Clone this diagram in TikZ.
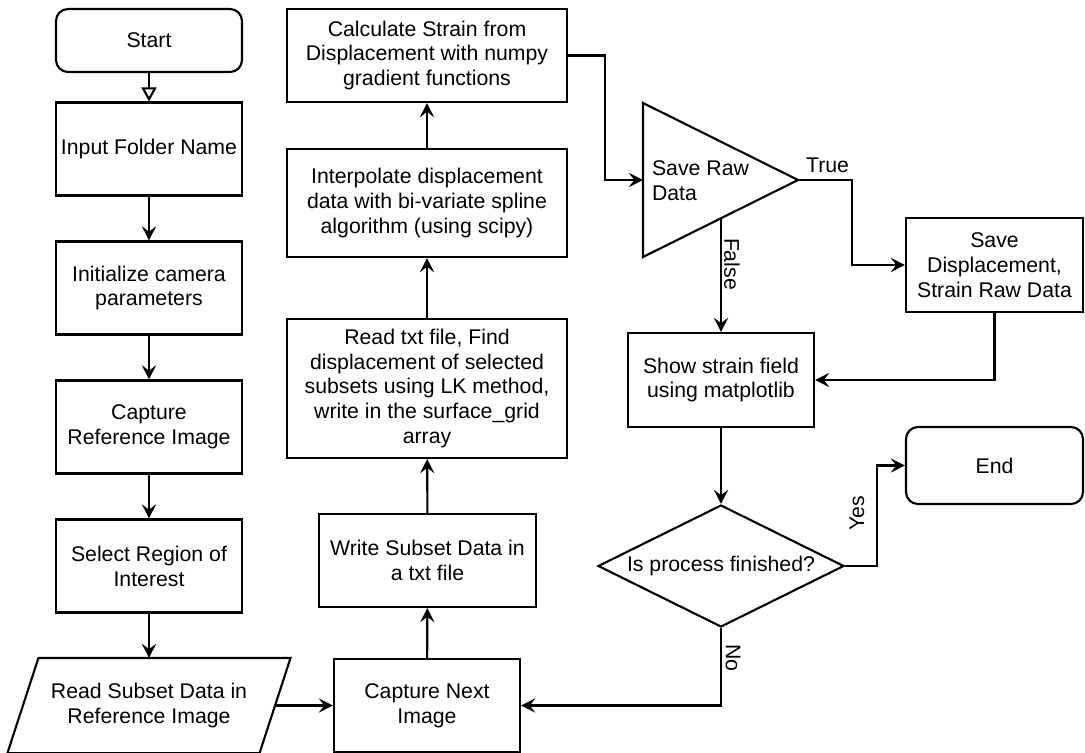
\documentclass[tikz,border=0pt]{standalone}
\usepackage{fontspec}
\setmainfont{Liberation Sans}
\usetikzlibrary{calc, positioning, shapes.geometric, arrows.meta}

\begin{document}
\begin{tikzpicture}[x = 0.02cm, y = -0.02cm, line width = 1.2pt,
		every node/.style = {font = \fontsize{12.1}{14.2}\selectfont, align = center, inner sep = 0pt},
		box/.style = {draw, minimum width = 186*\px, minimum height = 93*\px},
		terminal/.style = {box, rounded corners = 12*\px},
		decision/.style = {draw, diamond, aspect = 2, minimum width = 246*\px, minimum height = 122*\px},
		flow/.style = {-{Stealth[length = 8pt, width = 8pt, inset = 3pt]}}]
		\def\px{0.02cm}
		\def\slant{15.5}
		
		\useasboundingbox (0,0) rectangle (1085,753);
		
		% left column
		\node [terminal, minimum height = 63*\px] (start) at (149,40.5) {Start};
		\node [box] (input) at (149,149) {Input Folder Name};
		\node [box] (init) at (149,288) {Initialize camera\\parameters};
		\node [box] (capref) at (149,427) {Capture\\Reference Image};
		\node [box] (select) at (149,566) {Select Region of\\Interest};
		\node [minimum width = 250*\px, minimum height = 93*\px] (readsub) at (149,705.5) {Read Subset Data in\\Reference Image};
		\draw ($ (readsub.north west) + (\slant,0) $) -- ($ (readsub.north east) + (\slant,0) $)
			-- ($ (readsub.south east) + (-\slant,0) $) -- ($ (readsub.south west) + (-\slant,0) $) -- cycle;
		
		% middle column
		\node [box, minimum width = 280*\px] (strain) at (427,55.5) {Calculate Strain from\\Displacement with numpy\\gradient functions};
		\node [box, minimum width = 280*\px, minimum height = 108*\px] (interp) at (427,203) {Interpolate displacement\\data with bi-variate spline\\algorithm (using scipy)};
		\node [box, minimum width = 280*\px, minimum height = 139*\px] (readtxt) at (427,388.5) {Read txt file, Find\\displacement of selected\\subsets using LK method,\\write in the surface\_grid\\array};
		\node [box, minimum width = 217*\px] (write) at (427.5,560.5) {Write Subset Data in\\a txt file};
		\node [box] (capnext) at (427,705.5) {Capture Next\\Image};
		
		% save raw data triangle
		\coordinate (tri top) at (643,103);
		\coordinate (tri bottom) at (643,257);
		\coordinate (tri apex) at (798,180);
		\coordinate (tri west) at (643,180);
		\draw (tri top) -- (tri apex) -- (tri bottom) -- cycle;
		\node [align = left, anchor = west] (saveraw) at (651,181) {Save Raw\\Data};
		
		% right side
		\node [box, minimum height = 94*\px] (show) at (721,380) {Show strain field\\using matplotlib};
		\node [box, minimum width = 177*\px, minimum height = 94*\px] (savedisp) at (994.5,265) {Save\\Displacement,\\Strain Raw Data};
		\node [terminal, minimum width = 177*\px, minimum height = 77*\px] (finish) at (994.5,465.5) {End};
		\node [decision] (finished) at (721,566) {Is process finished?};
		\coordinate (tri false) at ($ (tri bottom)!0.503!(tri apex) $);
		
		% connectors
		\draw [-{Triangle[open, length = 8pt, width = 8.5pt]}] (start) -- (input);
		\draw [flow] (input) -- (init);
		\draw [flow] (init) -- (capref);
		\draw [flow] (capref) -- (select);
		\draw [flow] (select) -- (select |- readsub.north);
		\draw [flow] (readsub.east) -- (capnext);
		\draw [flow] (capnext) -- (write);
		\draw [flow] (write) -- (readtxt);
		\draw [flow] (readtxt) -- (interp);
		\draw [flow] (interp) -- (strain);
		\draw [flow] (strain.east) -- ++(37,0) |- (tri west);
		\draw [flow] (tri apex) -- ++(54,0) |- (savedisp.west);
		\draw [flow] (show.north |- tri false) -- (show.north);
		\draw [flow] (savedisp.south) |- (show.east);
		\draw [flow] (show) -- (finished);
		\draw [flow] (finished.east) -- ++(32,0) |- (finish.west);
		\draw [flow] (finished.south) |- (capnext.east);
		
		% branch labels
		\node [anchor = base west] (true) at (805,173) {True};
		\node [rotate = -90] (false) at (732,264) {False};
		\node [rotate = 90] (yes) at (857,513) {Yes};
		\node [rotate = -90] (no) at (733,658) {No};
	\end{tikzpicture}
\end{document}
